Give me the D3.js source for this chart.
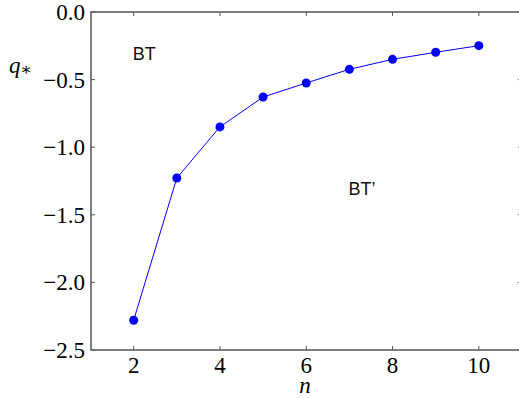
<!DOCTYPE html>
<html>
<head>
<meta charset="utf-8">
<script src="https://cdn.jsdelivr.net/npm/d3@7"></script>
<style>
  body { margin: 0; background: #fff; }
  svg { display: block; }
  .serif { font-family: "Liberation Serif", "DejaVu Serif", serif; }
  .sans { font-family: "Liberation Sans", Arial, sans-serif; }
</style>
</head>
<body>
<script>
var nValues = [2, 3, 4, 5, 6, 7, 8, 9, 10];
var qValues = [-2.28, -1.228, -0.85, -0.629, -0.525, -0.424, -0.35, -0.298, -0.249];
var xTicks = [2, 4, 6, 8, 10];
var yTicks = [0.0, -0.5, -1.0, -1.5, -2.0, -2.5];
var regionLabels = [
  {text: "BT", n: 1.98, q: -0.355},
  {text: "BT\u2019", n: 6.98, q: -1.35}
];

var width = 519, height = 398;
var svg = d3.select("body")
    .append("svg")
    .attr("width", width)
    .attr("height", height);

var padL = 91, padR = 522, padT = 12, padB = 350;

var xScale = d3.scaleLinear()
    .domain([1, 11])
    .range([padL - 0.5, padR]);

var yScale = d3.scaleLinear()
    .domain([-2.5, 0])
    .range([padB, padT]);

var axisColor = "#555";

// frame
svg.append("rect")
    .attr("x", padL)
    .attr("y", padT)
    .attr("width", padR - padL)
    .attr("height", padB - padT)
    .attr("fill", "none")
    .attr("stroke", axisColor)
    .attr("stroke-width", 1.5);

// ticks, inward on all four sides
var tl = 4;
svg.selectAll(".xtb").data(xTicks).enter().append("line")
    .attr("x1", d => xScale(d)).attr("x2", d => xScale(d))
    .attr("y1", padB).attr("y2", padB - tl)
    .attr("stroke", axisColor).attr("stroke-width", 1);
svg.selectAll(".xtt").data(xTicks).enter().append("line")
    .attr("x1", d => xScale(d)).attr("x2", d => xScale(d))
    .attr("y1", padT).attr("y2", padT + tl)
    .attr("stroke", axisColor).attr("stroke-width", 1);
svg.selectAll(".ytl").data(yTicks).enter().append("line")
    .attr("x1", padL).attr("x2", padL + tl)
    .attr("y1", d => yScale(d)).attr("y2", d => yScale(d))
    .attr("stroke", axisColor).attr("stroke-width", 1);
svg.selectAll(".ytr").data(yTicks).enter().append("line")
    .attr("x1", padR).attr("x2", padR - tl)
    .attr("y1", d => yScale(d)).attr("y2", d => yScale(d))
    .attr("stroke", axisColor).attr("stroke-width", 1);

// tick labels
svg.selectAll(".xl").data(xTicks).enter().append("text")
    .attr("class", "serif")
    .attr("x", d => xScale(d))
    .attr("y", padB + 23)
    .attr("text-anchor", "middle")
    .attr("font-size", 23)
    .text(d => d);

svg.selectAll(".yl").data(yTicks).enter().append("text")
    .attr("class", "serif")
    .attr("x", padL - 6)
    .attr("y", d => yScale(d) + 8)
    .attr("text-anchor", "end")
    .attr("font-size", 23)
    .text(d => d3.format(".1f")(d).replace("-", "\u2212"));

// axis labels
svg.append("text")
    .attr("class", "serif")
    .attr("x", 305)
    .attr("y", 393)
    .attr("text-anchor", "middle")
    .attr("font-style", "italic")
    .attr("font-size", 23)
    .text("n");

var ql = svg.append("text")
    .attr("class", "serif")
    .attr("x", 9)
    .attr("y", 73)
    .attr("font-size", 23);
ql.append("tspan").attr("font-style", "italic").text("q");
ql.append("tspan").attr("dy", 2).attr("font-size", 17).text("\u2217");

// line + markers
var line = d3.line()
    .x((d, i) => xScale(nValues[i]))
    .y(d => yScale(d));

svg.append("path")
    .datum(qValues)
    .attr("d", line)
    .attr("fill", "none")
    .attr("stroke", "#0000ff")
    .attr("stroke-width", 1);

svg.selectAll("circle")
    .data(qValues)
    .enter()
    .append("circle")
    .attr("cx", (d, i) => xScale(nValues[i]))
    .attr("cy", d => yScale(d))
    .attr("r", 4.5)
    .attr("fill", "#0000ff");

// region labels
svg.selectAll(".rl").data(regionLabels).enter().append("text")
    .attr("class", "sans")
    .attr("x", d => xScale(d.n))
    .attr("y", d => yScale(d.q))
    .attr("font-size", 18)
    .attr("fill", "#111")
    .text(d => d.text);
</script>
</body>
</html>
